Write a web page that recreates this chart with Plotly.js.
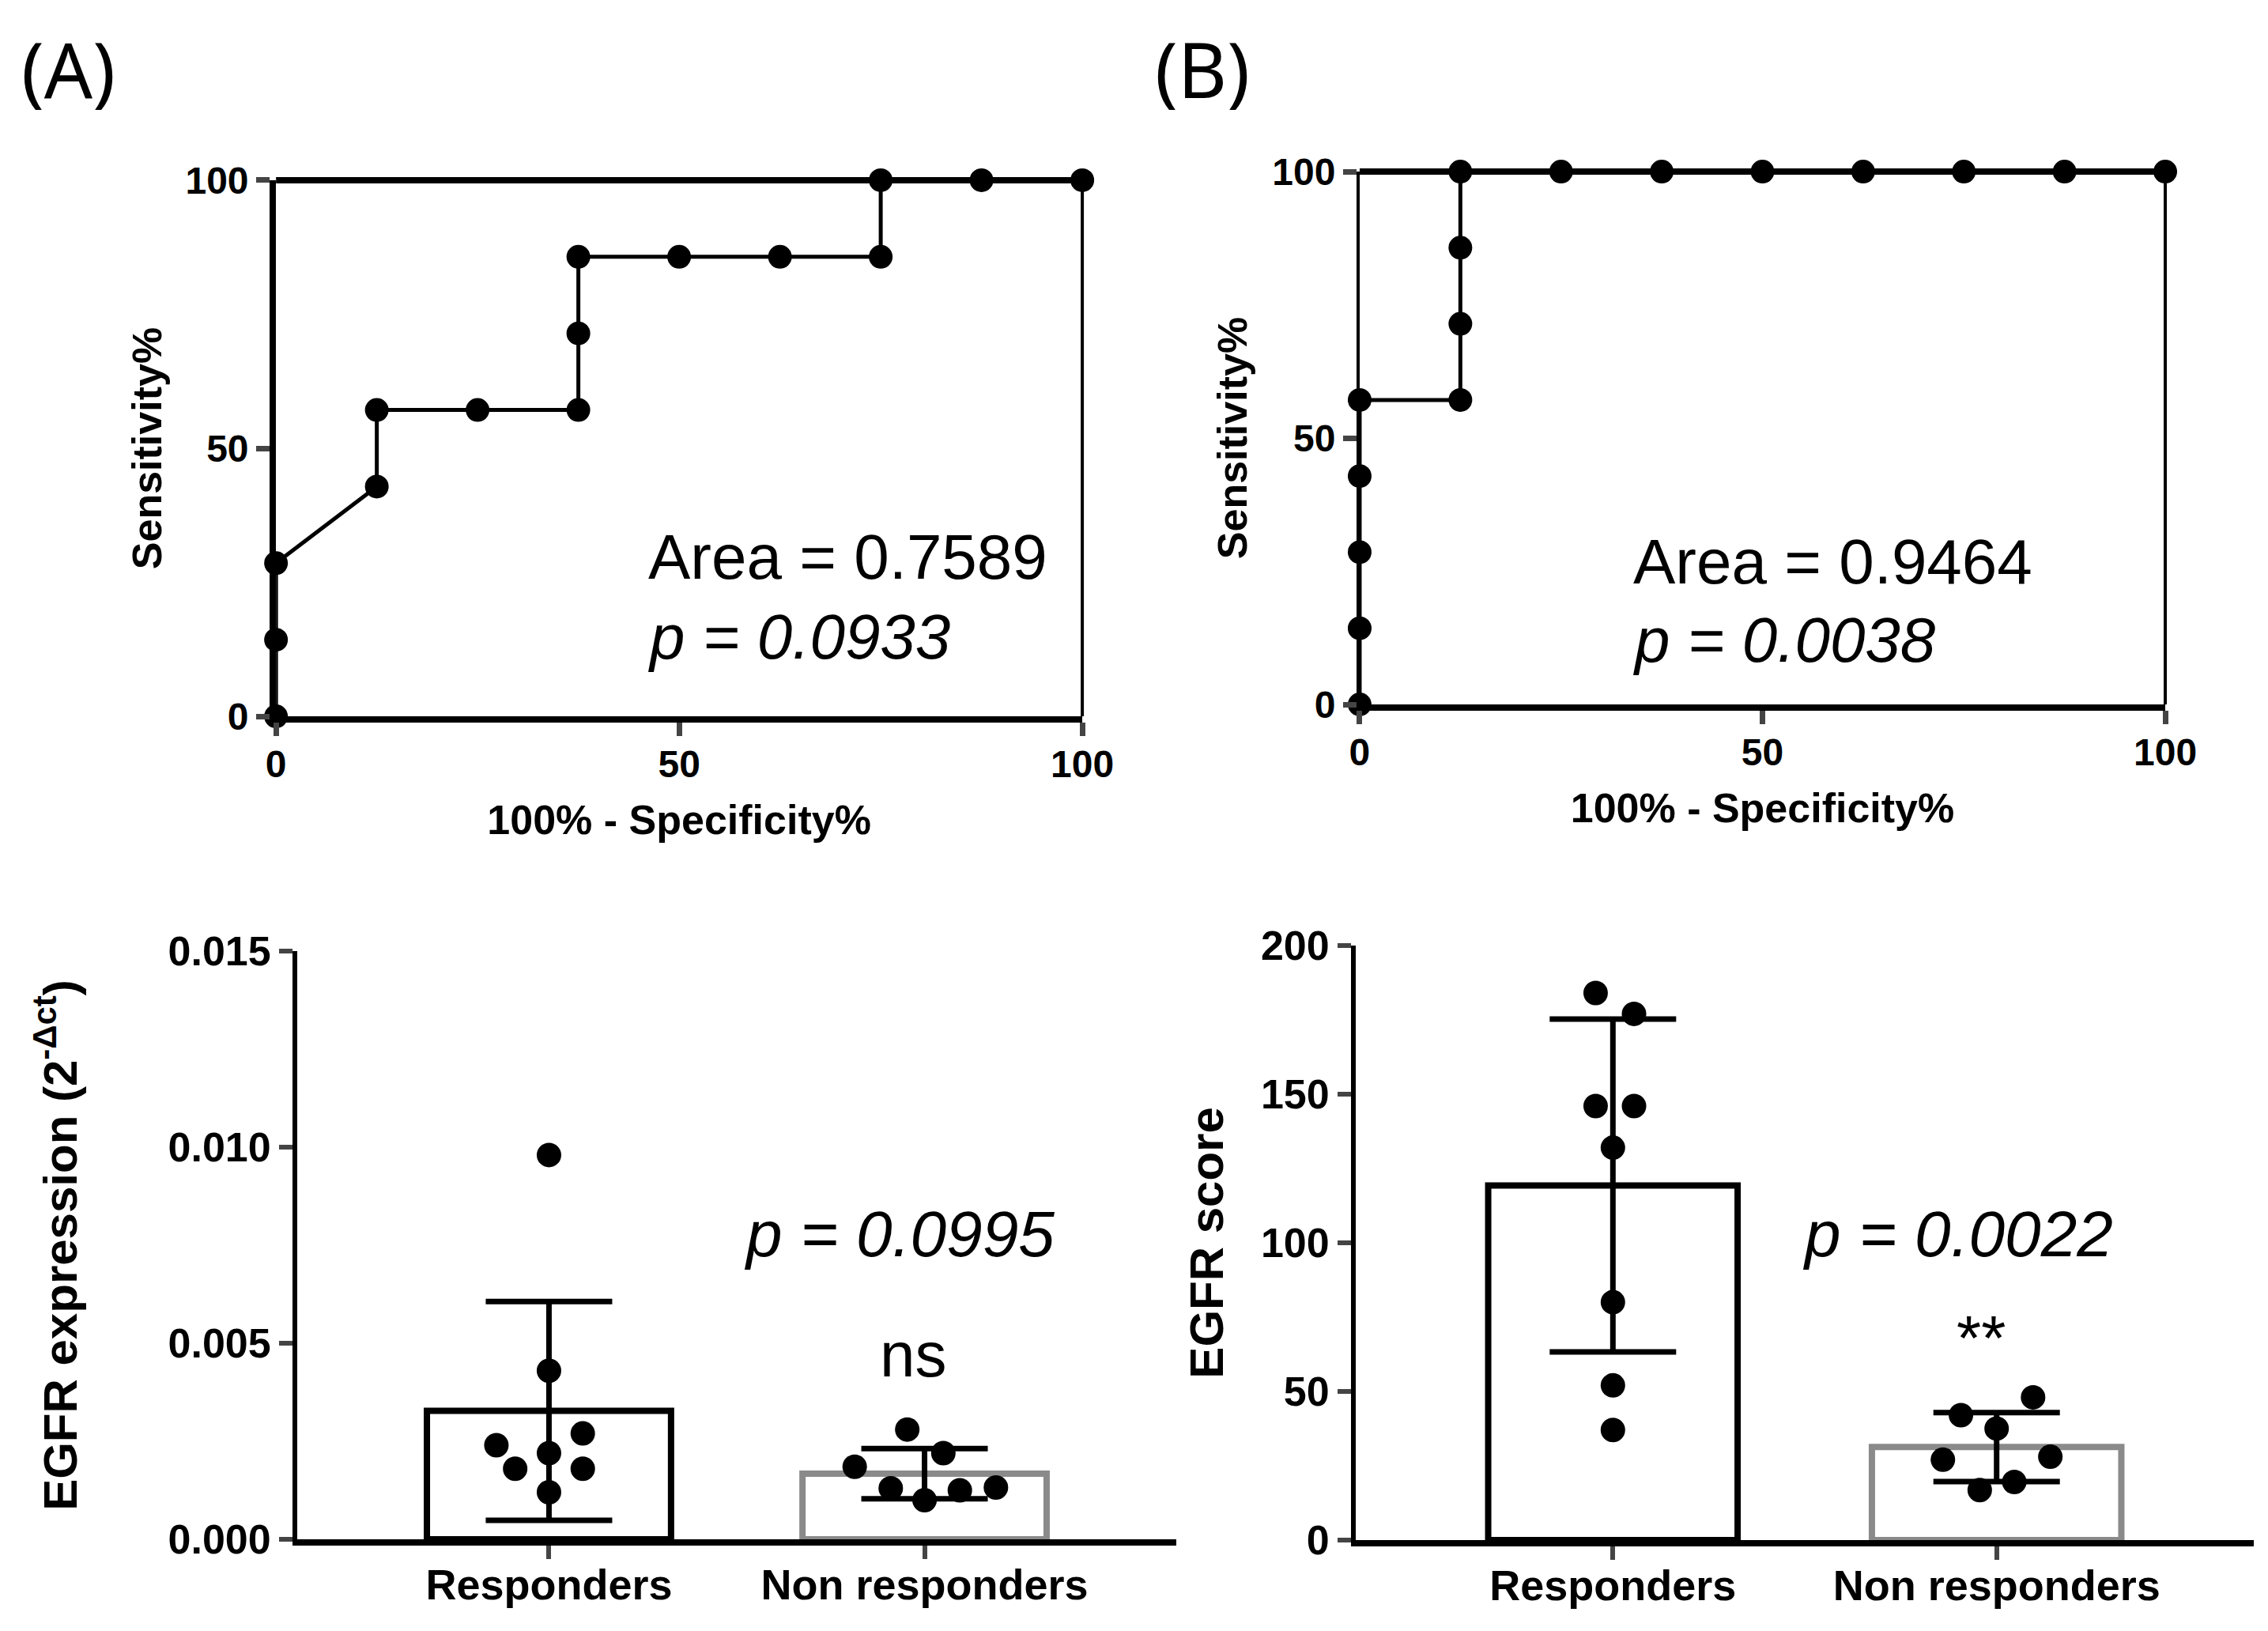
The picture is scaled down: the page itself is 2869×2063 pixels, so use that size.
<!DOCTYPE html>
<html>
<head>
<meta charset="utf-8">
<script src="https://cdn.plot.ly/plotly-3.0.1.min.js"></script>
<style>
  html, body { margin: 0; padding: 0; background: #fff; }
  #myDiv { width: 2869px; height: 2063px; }
</style>
</head>
<body>
<div id="myDiv"></div>
<script>
// ======== DATA ========
// (A) ROC, EGFR expression
var fprA  = [0, 0, 0, 12.5, 12.5, 25, 37.5, 37.5, 37.5, 50, 62.5, 75, 75, 87.5, 100];
var sensA = [0, 14.29, 28.57, 42.86, 57.14, 57.14, 57.14, 71.43, 85.71, 85.71, 85.71, 85.71, 100, 100, 100];
// (B) ROC, EGFR score
var fprB  = [0, 0, 0, 0, 0, 12.5, 12.5, 12.5, 12.5, 25, 37.5, 50, 62.5, 75, 87.5, 100];
var sensB = [0, 14.29, 28.57, 42.86, 57.14, 57.14, 71.43, 85.71, 100, 100, 100, 100, 100, 100, 100, 100];

var groups = ['Responders', 'Non responders'];

// EGFR expression (2^-dct) per patient
var exprResp    = [0.0098, 0.0043, 0.0027, 0.0024, 0.0022, 0.0018, 0.0018, 0.0012];
var exprNonResp = [0.0028, 0.0022, 0.00185, 0.0013, 0.001, 0.00125, 0.00132];
// EGFR score per patient
var scoreResp    = [184, 177, 146, 146, 132, 80, 52, 37];
var scoreNonResp = [48, 42, 37.5, 27, 28, 19.5, 16.8];

// horizontal scatter of the dots (category units)
var jitExprResp    = [0, 0, 0.09, -0.14, 0, -0.09, 0.09, 0];
var jitExprNonResp = [-0.046, 0.05, -0.186, -0.09, 0, 0.094, 0.19];
var jitScoreResp    = [-0.045, 0.055, -0.045, 0.055, 0, 0, 0, 0];
var jitScoreNonResp = [0.095, -0.093, 0, -0.14, 0.14, 0.046, -0.044];

var areaA = 'Area = 0.7589', pA = 'p = 0.0933';
var areaB = 'Area = 0.9464', pB = 'p = 0.0038';
var pC = 'p = 0.0995', pD = 'p = 0.0022';

// ======== HELPERS ========
function mean(a) { return a.reduce(function(s, v) { return s + v; }, 0) / a.length; }
function sd(a) {
  var m = mean(a);
  return Math.sqrt(a.reduce(function(s, v) { return s + (v - m) * (v - m); }, 0) / (a.length - 1));
}
function shift(a, base) { return a.map(function(d) { return base + d; }); }

var FONT = 'Liberation Sans, Arial, sans-serif';
var GREY = '#8a8a8a';

// subplot domains
var domXA = [0.1217, 0.4772], domYA = [0.5608, 0.8895];
var domXB = [0.5995, 0.9547], domYB = [0.5681, 0.8948];

// ======== TRACES ========
function rocTrace(x, y, xa, ya) {
  return {
    x: x, y: y, xaxis: xa, yaxis: ya,
    type: 'scatter', mode: 'lines+markers',
    line: {color: '#000', width: 5},
    marker: {color: '#000', size: 30},
    cliponaxis: false, hoverinfo: 'skip'
  };
}

function barTrace(vals, xa, ya) {
  return {
    x: [0, 1], y: vals.map(mean), xaxis: xa, yaxis: ya,
    type: 'bar', width: 0.65,
    marker: {color: '#fff', line: {color: ['#000', GREY], width: 8}},
    error_y: {type: 'data', array: vals.map(sd), visible: true,
              color: '#000', thickness: 7, width: 80},
    hoverinfo: 'skip'
  };
}

function dotTrace(x, y, xa, ya) {
  return {
    x: x, y: y, xaxis: xa, yaxis: ya,
    type: 'scatter', mode: 'markers',
    marker: {color: '#000', size: 31},
    cliponaxis: false, hoverinfo: 'skip'
  };
}

var plotData = [
  rocTrace(fprA, sensA, 'x', 'y'),
  rocTrace(fprB, sensB, 'x2', 'y2'),
  barTrace([exprResp, exprNonResp], 'x3', 'y3'),
  dotTrace(shift(jitExprResp, 0).concat(shift(jitExprNonResp, 1)), exprResp.concat(exprNonResp), 'x3', 'y3'),
  barTrace([scoreResp, scoreNonResp], 'x4', 'y4'),
  dotTrace(shift(jitScoreResp, 0).concat(shift(jitScoreNonResp, 1)), scoreResp.concat(scoreNonResp), 'x4', 'y4')
];

// ======== LAYOUT ========
function rocX(domain, anchor) {
  return {
    domain: domain, anchor: anchor, range: [0, 100],
    tickvals: [0, 50, 100], ticks: 'outside', ticklen: 17, tickwidth: 7,
    ticklabelstandoff: -6,
    showline: true, linewidth: 8, linecolor: '#000',
    showgrid: false, zeroline: false,
    tickfont: {family: FONT, size: 48, color: '#000', weight: 'bold'},
    title: {text: '100% - Specificity%', standoff: 30,
            font: {family: FONT, size: 52, color: '#000', weight: 'bold'}}
  };
}
function rocY(domain, anchor, lw) {
  return {
    domain: domain, anchor: anchor, range: [0, 100],
    tickvals: [0, 50, 100], ticks: 'outside', ticklen: 17, tickwidth: 7,
    showline: true, linewidth: lw, linecolor: '#000',
    showgrid: false, zeroline: false,
    tickfont: {family: FONT, size: 48, color: '#000', weight: 'bold'},
    title: {text: 'Sensitivity%', standoff: 16,
            font: {family: FONT, size: 52, color: '#000', weight: 'bold'}}
  };
}
function barX(domain, anchor) {
  return {
    domain: domain, anchor: anchor, range: [-0.67, 1.67],
    tickvals: [0, 1], ticktext: groups,
    ticks: 'outside', ticklen: 17, tickwidth: 6, ticklabelstandoff: -14,
    showline: true, linewidth: 8, linecolor: '#000',
    showgrid: false, zeroline: false,
    tickfont: {family: FONT, size: 54, color: '#000', weight: 'bold'}
  };
}
function barY(domain, anchor, range, dtick, fmt, title, standoff) {
  return {
    domain: domain, anchor: anchor, range: range, dtick: dtick, tickformat: fmt,
    ticks: 'outside', ticklen: 17, tickwidth: 6,
    showline: true, linewidth: 6, linecolor: '#000',
    showgrid: false, zeroline: false,
    tickfont: {family: FONT, size: 52, color: '#000', weight: 'bold'},
    title: {text: title, standoff: standoff,
            font: {family: FONT, size: 60, color: '#000', weight: 'bold'}}
  };
}

// top (thick) and right (thin) border of an ROC panel, in paper units so it is not clipped
function frame(dx, dy) {
  return [
    {type: 'line', xref: 'paper', yref: 'paper', x0: dx[0], x1: dx[1], y0: dy[1], y1: dy[1],
     line: {color: '#000', width: 8}},
    {type: 'line', xref: 'paper', yref: 'paper', x0: dx[1], x1: dx[1], y0: dy[0], y1: dy[1],
     line: {color: '#000', width: 4}}
  ];
}

function note(text, xr, yr, x, y, size, italic, anchor) {
  return {
    text: text, xref: xr, yref: yr, x: x, y: y,
    xanchor: anchor || 'left', yanchor: 'middle', showarrow: false,
    font: {family: FONT, size: size, color: '#000', style: italic ? 'italic' : 'normal'}
  };
}

var layout = {
  width: 2869, height: 2063,
  margin: {l: 0, r: 0, t: 0, b: 0},
  paper_bgcolor: '#fff', plot_bgcolor: 'rgba(0,0,0,0)',
  showlegend: false,
  xaxis:  rocX(domXA, 'y'),
  yaxis:  rocY(domYA, 'x', 8),
  xaxis2: rocX(domXB, 'y2'),
  yaxis2: rocY(domYB, 'x2', 4),
  xaxis3: barX([0.1311, 0.5186], 'y3'),
  yaxis3: barY([0.0562, 0.4169], 'x3', [0, 0.015], 0.005, '.3f',
               'EGFR expression (2<sup>-Δct</sup>)', 98),
  xaxis4: barX([0.5978, 0.9937], 'y4'),
  yaxis4: barY([0.0558, 0.4203], 'x4', [0, 200], 50, '', 'EGFR score', 30),
  shapes: frame(domXA, domYA).concat(frame(domXB, domYB)),
  annotations: [
    {text: '(A)', xref: 'paper', yref: 'paper', x: 0.030, y: 0.958, showarrow: false,
     xanchor: 'center', yanchor: 'middle', font: {family: 'Noto Sans', size: 96, color: '#000'}},
    {text: '(B)', xref: 'paper', yref: 'paper', x: 0.530, y: 0.958, showarrow: false,
     xanchor: 'center', yanchor: 'middle', font: {family: 'Noto Sans', size: 96, color: '#000'}},
    note(areaA, 'x', 'y', 46, 29.7, 80, false),
    note(pA, 'x', 'y', 46, 14.9, 80, true),
    note(areaB, 'x2', 'y2', 33.8, 26.8, 80, false),
    note(pB, 'x2', 'y2', 33.8, 12.1, 80, true),
    note(pC, 'x3', 'y3', 0.515, 0.0078, 82, true),
    note('ns', 'x3', 'y3', 0.97, 0.0047, 80, false, 'center'),
    note(pD, 'x4', 'y4', 0.49, 103, 82, true),
    note('**', 'x4', 'y4', 0.96, 68, 80, false, 'center')
  ]
};

var config = {staticPlot: true, displayModeBar: false};

Plotly.newPlot('myDiv', plotData, layout, config);
</script>
</body>
</html>
